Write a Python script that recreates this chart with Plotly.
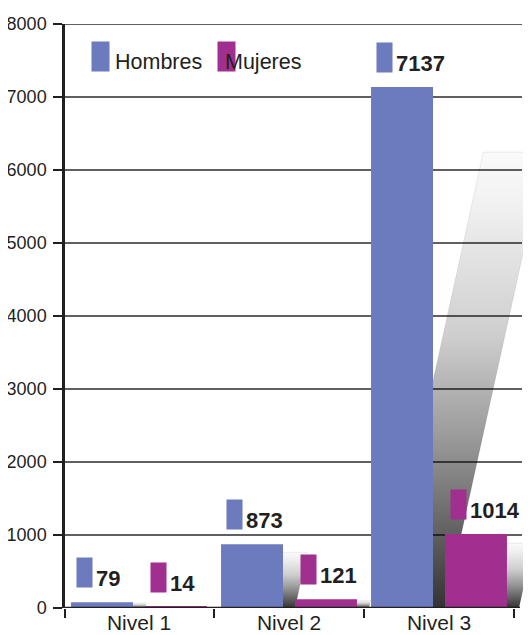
"""
Gráfico de barras: personas por nivel y sexo, con sombras en degradado.
"""

import plotly.graph_objects as go

niveles = ["Nivel 1", "Nivel 2", "Nivel 3"]
hombres = [79, 873, 7137]
mujeres = [14, 121, 1014]
y_ticks = [0, 1000, 2000, 3000, 4000, 5000, 6000, 7000, 8000]

AZUL = "#6b7bbe"
MORADO = "#a12f8f"
NEGRO = "#231f20"
FUENTE = "Liberation Sans, Arial, sans-serif"

# la página tiene un margen de 8 px en el body: se descuenta del tamaño
BODY = 8
W, H = 531 - BODY, 635 - BODY
M_L, M_R, M_T, M_B = 65 - BODY, 0, 24 - BODY, 27
X_RANGE = [-0.4933, 2.6133]
Y_RANGE = [0, 8000]
px_x = (W - M_L - M_R) / (X_RANGE[1] - X_RANGE[0])
px_y = (H - M_T - M_B) / (Y_RANGE[1] - Y_RANGE[0])

ANCHO = 0.413
OFF_H = -0.453
OFF_M = 0.04

DEGRADADO = [
    [0.0, "rgba(0,0,0,0.80)"],
    [0.35, "rgba(0,0,0,0.42)"],
    [0.6, "rgba(0,0,0,0.19)"],
    [0.9, "rgba(0,0,0,0.05)"],
    [1.0, "rgba(0,0,0,0.02)"],
]


def sombra(x, valor, offset):
    """Paralelogramo inclinado detrás de la barra."""
    x0 = x + offset + 12 / px_x
    x1 = x0 + ANCHO
    alto = 0.875 * valor
    dx = 0.22 * alto * px_y / px_x
    return go.Scatter(
        x=[x0, x1, x1 + dx, x0 + dx, x0],
        y=[0, 0, alto, alto, 0],
        mode="lines",
        fill="toself",
        fillgradient=dict(type="vertical", colorscale=DEGRADADO),
        line=dict(width=0.6, color="rgba(0,0,0,0.12)"),
        hoverinfo="skip",
        showlegend=False,
    )


fig = go.Figure()

for i, v in enumerate(hombres):
    fig.add_trace(sombra(i, v, OFF_H))
for i, v in enumerate(mujeres):
    fig.add_trace(sombra(i, v, OFF_M))

pos = list(range(len(niveles)))
for nombre, valores, color, off in [
    ("Hombres", hombres, AZUL, OFF_H),
    ("Mujeres", mujeres, MORADO, OFF_M),
]:
    fig.add_trace(
        go.Bar(
            x=pos,
            y=valores,
            width=ANCHO,
            offset=off,
            name=nombre,
            marker=dict(color=color, line_width=0),
            xaxis="x2",
            yaxis="y2",
            showlegend=False,
        )
    )

    # etiqueta: cuadrito de color + valor en negrita
    for i, v in zip(pos, valores):
        xl = i + off + 5 / px_x
        fig.add_annotation(
            x=xl, y=v, xref="x", yref="y",
            text=" ", showarrow=False,
            xanchor="left", yanchor="bottom",
            width=15, height=29, borderpad=0,
            bgcolor=color, yshift=14,
        )
        fig.add_annotation(
            x=xl, y=v, xref="x", yref="y",
            text=f"<b>{v}</b>", showarrow=False,
            xanchor="left", yanchor="bottom",
            font=dict(family=FUENTE, size=22, color=NEGRO),
            xshift=19, yshift=10, borderpad=0,
        )

# leyenda hecha a mano
for nombre, color, xr, xt in [
    ("Hombres", AZUL, 0.0558, 0.105),
    ("Mujeres", MORADO, 0.326, 0.341),
]:
    fig.add_annotation(
        x=xr, y=0.918, xref="paper", yref="paper",
        text=" ", showarrow=False, xanchor="left", yanchor="bottom",
        width=17, height=29, borderpad=0, bgcolor=color,
    )
    fig.add_annotation(
        x=xt, y=0.918, xref="paper", yref="paper",
        text=nombre, showarrow=False, xanchor="left", yanchor="bottom",
        font=dict(family=FUENTE, size=21.5, color=NEGRO),
        borderpad=0, yshift=-3,
    )

# líneas de la cuadrícula y eje x (terminan antes del borde derecho)
ancho_plot = W - M_L - M_R
for v in y_ticks[1:]:
    fig.add_shape(
        type="line", xref="paper", yref="y", x0=0, x1=457 / ancho_plot,
        y0=v, y1=v, line=dict(color="#2b2b2b", width=1.3), layer="below",
    )
fig.add_shape(
    type="line", xref="paper", yref="y", x0=0, x1=455 / ancho_plot,
    y0=0, y1=0, line=dict(color=NEGRO, width=2.5), layer="above",
)

fig.update_layout(
    template="none",
    width=W,
    height=H,
    margin=dict(l=M_L, r=M_R, t=M_T, b=M_B),
    paper_bgcolor="white",
    plot_bgcolor="white",
    barmode="overlay",
    showlegend=False,
    font=dict(family=FUENTE, color=NEGRO),
    xaxis=dict(
        range=X_RANGE,
        tickvals=[X_RANGE[0], 0.5, 1.5, 2.5],
        ticks="outside", ticklen=9, tickwidth=1.5, tickcolor=NEGRO,
        showticklabels=False, showgrid=False, zeroline=False, showline=False,
        automargin=False,
    ),
    xaxis2=dict(
        overlaying="x", anchor="y", side="bottom",
        range=X_RANGE,
        tickvals=pos, ticktext=niveles,
        ticks="", showgrid=False, zeroline=False, showline=False,
        tickfont=dict(size=21, color=NEGRO),
        automargin=False,
    ),
    yaxis=dict(
        range=Y_RANGE,
        tickvals=y_ticks,
        ticks="outside", ticklen=9, tickwidth=1.5, tickcolor=NEGRO,
        showline=True, linewidth=2.5, linecolor=NEGRO,
        showgrid=False, zeroline=False,
        tickfont=dict(size=18, color=NEGRO),
        ticklabelstandoff=3,
        automargin=False,
    ),
    yaxis2=dict(
        overlaying="y", range=Y_RANGE, visible=False,
    ),
)

fig.write_html("out.html")
